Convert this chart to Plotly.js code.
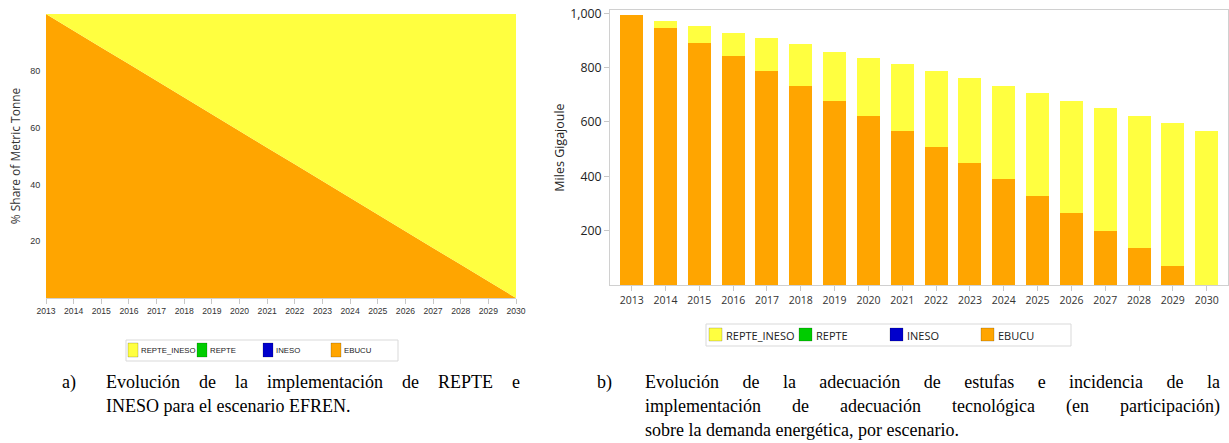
<!DOCTYPE html>
<html>
<head>
<meta charset="utf-8">
<script src="https://cdn.plot.ly/plotly-3.0.1.min.js"></script>
<style>
  html, body { margin:0; padding:0; background:#fff; width:1229px; height:443px; overflow:hidden; }
  #chart { position:absolute; left:0; top:0; width:1229px; height:443px; }
  .cap { position:absolute; font-family:"Liberation Serif","Times New Roman",serif; font-size:18px; line-height:24px; color:#000; }
  .cap .j { text-align:justify; text-align-last:justify; }
  .cap .l { text-align:left; }
</style>
</head>
<body>
<div id="chart"></div>
<div class="cap" style="left:62px; top:370px;">a)</div>
<div class="cap" style="left:106px; top:370px; width:414px;">
  <div class="j">Evolución de la implementación de REPTE e</div>
  <div class="l">INESO para el escenario EFREN.</div>
</div>
<div class="cap" style="left:597px; top:370px;">b)</div>
<div class="cap" style="left:645px; top:370px; width:575px;">
  <div class="j">Evolución de la adecuación de estufas e incidencia de la</div>
  <div class="j">implementación de adecuación tecnológica (en participación)</div>
  <div class="l">sobre la demanda energética, por escenario.</div>
</div>
<script>
// ---- data ----
const years = [2013, 2014, 2015, 2016, 2017, 2018, 2019, 2020, 2021, 2022, 2023, 2024, 2025, 2026, 2027, 2028, 2029, 2030];
const yearLabels = ["2013","2014","2015","2016","2017","2018","2019","2020","2021","2022","2023","2024","2025","2026","2027","2028","2029","2030"];
const seriesNames = ["REPTE_INESO", "REPTE", "INESO", "EBUCU"];
const seriesColors = ["#FFFF40", "#00CC00", "#0000CC", "#FFA500"];

// chart a: % share of metric tonne
const shareEbucu      = [100, 94.1, 88.2, 82.4, 76.5, 70.6, 64.7, 58.8, 52.9, 47.1, 41.2, 35.3, 29.4, 23.5, 17.6, 11.8, 5.9, 0];
const shareIneso      = [0, 0, 0, 0, 0, 0, 0, 0, 0, 0, 0, 0, 0, 0, 0, 0, 0, 0];
const shareRepte      = [0, 0, 0, 0, 0, 0, 0, 0, 0, 0, 0, 0, 0, 0, 0, 0, 0, 0];
const shareRepteIneso = [0, 5.9, 11.8, 17.6, 23.5, 29.4, 35.3, 41.2, 47.1, 52.9, 58.8, 64.7, 70.6, 76.5, 82.4, 88.2, 94.1, 100];

// chart b: Miles Gigajoule
const demEbucu      = [995, 945, 892, 842, 788, 734, 678, 622, 566, 509, 449, 389, 327, 264, 200, 137, 71, 0];
const demIneso      = [0, 0, 0, 0, 0, 0, 0, 0, 0, 0, 0, 0, 0, 0, 0, 0, 0, 0];
const demRepte      = [0, 0, 0, 0, 0, 0, 0, 0, 0, 0, 0, 0, 0, 0, 0, 0, 0, 0];
const demRepteIneso = [0, 27, 61, 87, 120, 152, 181, 215, 247, 278, 312, 344, 379, 414, 451, 484, 526, 567];

const yTicksA = [20, 40, 60, 80];
const yTicksB = [200, 400, 600, 800, 1000];

// ---- fonts / geometry ----
const small = '"Liberation Sans",Arial,sans-serif';
const sans = '"Open Sans","Noto Sans",sans-serif';
const W = 1229, H = 443;
const px = v => v / W;          // pixel x -> paper
const py = v => 1 - v / H;      // pixel y -> paper

const shareSets = [shareRepteIneso, shareRepte, shareIneso, shareEbucu];
const demSets = [demRepteIneso, demRepte, demIneso, demEbucu];
const traces = [];

// chart a areas, stacked bottom (EBUCU) to top (REPTE_INESO)
for (let i = 3; i >= 0; i--) {
  traces.push({
    type: 'scatter', x: years, y: shareSets[i], name: seriesNames[i],
    stackgroup: 'a', mode: 'none', fillcolor: seriesColors[i],
    xaxis: 'x', yaxis: 'y', showlegend: false
  });
}
// chart b bars
for (let i = 3; i >= 0; i--) {
  traces.push({
    type: 'bar', x: yearLabels, y: demSets[i], name: seriesNames[i],
    marker: {color: seriesColors[i], line: {width: 0}},
    xaxis: 'x2', yaxis: 'y2', showlegend: false
  });
}

// ---- legends (drawn as boxes + labels, one per chart) ----
const legendSpecs = [
  {box: [126, 340, 398, 361], sq: [128, 197, 263, 331], sqW: 10, sqTop: 343, sqBot: 357, txtGap: 1.5, yMid: 350,
   font: {family: small, size: 7.8, color: '#222'}},
  {box: [706, 324, 1071, 346], sq: [709, 799, 890, 981], sqW: 13, sqTop: 328, sqBot: 341, txtGap: 3, yMid: 335,
   font: {family: sans, size: 11, color: '#222'}}
];
const shapes = [], annotations = [];
legendSpecs.forEach(L => {
  shapes.push({type: 'rect', xref: 'paper', yref: 'paper',
    x0: px(L.box[0]), x1: px(L.box[2]), y0: py(L.box[3]), y1: py(L.box[1]),
    line: {color: '#d9d9d9', width: 1}, fillcolor: '#fff', layer: 'above'});
  seriesNames.forEach((nm, i) => {
    shapes.push({type: 'rect', xref: 'paper', yref: 'paper',
      x0: px(L.sq[i]), x1: px(L.sq[i] + L.sqW), y0: py(L.sqBot), y1: py(L.sqTop),
      line: {color: 'rgba(0,0,0,0.18)', width: 1}, fillcolor: seriesColors[i], layer: 'above'});
    annotations.push({xref: 'paper', yref: 'paper', x: px(L.sq[i] + L.sqW + L.txtGap), y: py(L.yMid),
      xanchor: 'left', yanchor: 'middle', showarrow: false, text: nm, font: L.font, borderpad: 0});
  });
});

const axisLine = '#d0d0d0';
const layout = {
  width: W, height: H, autosize: false,
  margin: {l: 0, r: 0, t: 0, b: 0},
  paper_bgcolor: '#fff', plot_bgcolor: 'rgba(0,0,0,0)',
  barmode: 'stack', bargap: 0.32,
  showlegend: false,
  shapes: shapes, annotations: annotations,
  xaxis: {
    domain: [px(46), px(516)], range: [2013, 2030], automargin: false,
    tickvals: years, ticktext: yearLabels, ticks: 'outside', ticklen: 5, tickcolor: '#c8c8c8',
    showline: true, linecolor: axisLine, showgrid: false, zeroline: false,
    tickfont: {family: small, size: 8.6, color: '#333'}
  },
  yaxis: {
    domain: [py(298), py(14)], range: [0, 100], automargin: false,
    tickvals: yTicksA, ticks: 'outside', ticklen: 3, tickcolor: 'rgba(0,0,0,0)',
    showline: false, showgrid: false, zeroline: false,
    tickfont: {family: small, size: 9, color: '#333'},
    title: {text: '% Share of Metric Tonne', font: {family: sans, size: 12, color: '#333'}, standoff: 6}
  },
  xaxis2: {
    domain: [px(610), px(1228)], type: 'category', range: [-0.64, 17.63], automargin: false,
    ticks: 'outside', ticklen: 5, tickcolor: '#c8c8c8',
    showline: true, mirror: true, linecolor: axisLine, showgrid: false, zeroline: false,
    tickfont: {family: sans, size: 10.5, color: '#333'}, anchor: 'y2'
  },
  yaxis2: {
    domain: [py(285), py(10)], range: [0, 1012], automargin: false,
    tickvals: yTicksB, tickformat: ',', ticks: 'outside', ticklen: 5, tickcolor: '#c8c8c8',
    showline: true, mirror: true, linecolor: axisLine, showgrid: false, zeroline: false,
    tickfont: {family: sans, size: 12.3, color: '#222'}, anchor: 'x2',
    title: {text: 'Miles Gigajoule', font: {family: sans, size: 12.5, color: '#222'}, standoff: 2}
  }
};

Plotly.newPlot('chart', traces, layout, {displayModeBar: false, staticPlot: true});
</script>
</body>
</html>
